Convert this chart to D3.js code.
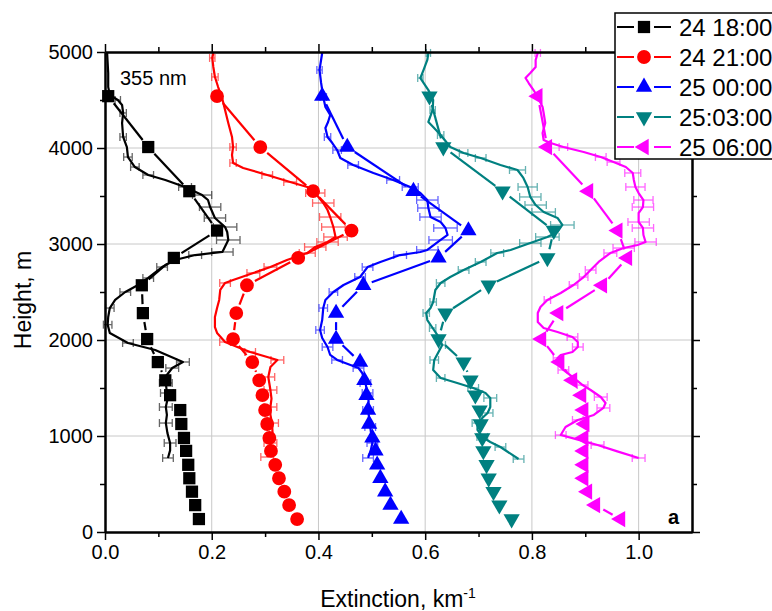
<!DOCTYPE html>
<html>
<head>
<meta charset="utf-8">
<script src="https://cdn.jsdelivr.net/npm/d3@7"></script>
<style>
  body { margin: 0; background: #fff; }
  text { font-family: Arial, "Liberation Sans", sans-serif; }
</style>
</head>
<body>
<svg id="chart" width="772" height="611"></svg>
<script>
// heights (m) of the symbol profiles, shared by all five times
var heights = [135, 280, 420, 560, 700, 845, 980, 1125, 1270, 1425, 1580, 1770, 2010, 2280, 2570, 2855, 3140, 3550, 4010, 4540];

// extinction (km-1) at those heights
var ext2418 = [0.176, 0.169, 0.163, 0.158, 0.156, 0.152, 0.148, 0.143, 0.141, 0.122, 0.113, 0.099, 0.079, 0.071, 0.069, 0.129, 0.210, 0.158, 0.081, 0.006];
var ext2421 = [0.360, 0.345, 0.336, 0.326, 0.319, 0.311, 0.308, 0.304, 0.300, 0.295, 0.289, 0.276, 0.240, 0.246, 0.266, 0.362, 0.462, 0.390, 0.291, 0.210];
var ext2500 = [0.555, 0.535, 0.525, 0.516, 0.510, 0.507, 0.501, 0.495, 0.493, 0.490, 0.486, 0.478, 0.433, 0.433, 0.484, 0.625, 0.681, 0.578, 0.454, 0.407];
var ext2503 = [0.762, 0.739, 0.728, 0.719, 0.715, 0.709, 0.707, 0.704, 0.702, 0.694, 0.685, 0.672, 0.625, 0.638, 0.719, 0.829, 0.841, 0.745, 0.634, 0.608];
var ext2506 = [0.966, 0.919, 0.904, 0.897, 0.897, 0.897, 0.897, 0.899, 0.897, 0.893, 0.876, 0.852, 0.818, 0.850, 0.932, 0.979, 0.961, 0.906, 0.829, 0.811];

// lidar profiles: [height, extinction, error half width (0 = no bar)]
var prof2418 = [[771,0.118,0.010],[850,0.122,0],[927,0.122,0.011],[1030,0.117,0],[1135,0.114,0.012],[1220,0.116,0],[1302,0.114,0.012],[1380,0.117,0],[1448,0.116,0.012],[1552,0.114,0.012],[1615,0.113,0],[1708,0.126,0.012],[1771,0.146,0.012],[1896,0.094,0],[1969,0.043,0.010],[2073,0.009,0],[2160,0.005,0.008],[2240,0.006,0],[2333,0.009,0.008],[2417,0.019,0],[2500,0.038,0.010],[2573,0.062,0],[2646,0.081,0.010],[2760,0.107,0.010],[2833,0.131,0],[2885,0.169,0.012],[2917,0.220,0.020],[3042,0.231,0.022],[3125,0.229,0],[3177,0.225,0.022],[3271,0.206,0.020],[3385,0.197,0.020],[3458,0.193,0],[3510,0.182,0.018],[3594,0.150,0.012],[3667,0.113,0],[3719,0.081,0.010],[3802,0.056,0.008],[3906,0.043,0.008],[4010,0.041,0],[4115,0.034,0.006],[4260,0.032,0],[4365,0.034,0.006],[4448,0.032,0],[4500,0.024,0.005],[4552,0.009,0],[4635,0.006,0],[4781,0.006,0],[4990,0.004,0]];
var prof2421 = [[781,0.304,0.012],[860,0.309,0],[927,0.310,0.012],[1030,0.314,0],[1135,0.313,0.012],[1220,0.310,0],[1302,0.310,0.012],[1390,0.312,0],[1479,0.310,0.012],[1615,0.306,0.012],[1719,0.310,0],[1792,0.323,0.012],[1823,0.304,0],[1875,0.272,0.010],[1927,0.248,0],[1979,0.225,0.010],[2073,0.210,0],[2135,0.206,0],[2240,0.206,0],[2333,0.210,0],[2417,0.214,0],[2521,0.216,0],[2594,0.225,0.010],[2625,0.240,0],[2698,0.278,0.012],[2760,0.310,0.012],[2833,0.341,0],[2906,0.379,0.015],[2969,0.394,0.020],[3021,0.417,0.020],[3073,0.432,0.022],[3177,0.428,0.022],[3281,0.422,0.020],[3354,0.417,0],[3427,0.409,0.020],[3531,0.394,0.018],[3594,0.379,0],[3646,0.347,0.012],[3719,0.304,0.010],[3792,0.259,0],[3844,0.240,0.006],[3927,0.238,0],[4010,0.240,0.006],[4115,0.238,0],[4260,0.231,0],[4396,0.225,0],[4531,0.219,0],[4635,0.212,0],[4740,0.206,0.006],[4844,0.203,0],[4938,0.201,0.005],[4990,0.203,0]];
var prof2500 = [[771,0.493,0.010],[850,0.498,0],[927,0.501,0.010],[1094,0.497,0.010],[1271,0.493,0.010],[1360,0.494,0],[1448,0.492,0.010],[1552,0.488,0.010],[1656,0.482,0],[1708,0.475,0.010],[1740,0.460,0],[1792,0.435,0.010],[1844,0.422,0],[1927,0.417,0.010],[2021,0.407,0],[2104,0.403,0.008],[2208,0.407,0],[2333,0.409,0.008],[2417,0.413,0],[2500,0.428,0.008],[2573,0.447,0],[2656,0.478,0.010],[2760,0.492,0.010],[2813,0.516,0],[2885,0.553,0.012],[2917,0.591,0],[2938,0.604,0.020],[3042,0.629,0.022],[3094,0.642,0],[3167,0.638,0.022],[3229,0.629,0],[3281,0.610,0.020],[3375,0.606,0.020],[3458,0.604,0.020],[3531,0.591,0],[3594,0.572,0.015],[3667,0.540,0.012],[3740,0.503,0],[3823,0.465,0.010],[3896,0.441,0],[3979,0.435,0.008],[4052,0.426,0],[4115,0.417,0.006],[4208,0.413,0],[4271,0.418,0],[4344,0.422,0],[4427,0.413,0],[4531,0.409,0.006],[4677,0.405,0],[4813,0.402,0.005],[4990,0.407,0]];
var prof2503 = [[760,0.775,0.010],[885,0.741,0.010],[938,0.722,0],[990,0.707,0.010],[1063,0.698,0],[1135,0.698,0.010],[1188,0.707,0],[1240,0.717,0.010],[1302,0.722,0],[1396,0.722,0.012],[1448,0.713,0],[1500,0.690,0.010],[1552,0.660,0],[1604,0.629,0.008],[1688,0.615,0],[1792,0.617,0.008],[1875,0.625,0],[1948,0.632,0.006],[2052,0.623,0],[2125,0.614,0.006],[2208,0.604,0],[2281,0.602,0.006],[2333,0.610,0],[2396,0.615,0.006],[2521,0.619,0],[2594,0.629,0.008],[2656,0.647,0],[2729,0.672,0.010],[2813,0.704,0.010],[2906,0.735,0.012],[2938,0.760,0],[3010,0.797,0.020],[3073,0.829,0.022],[3125,0.848,0],[3198,0.857,0.022],[3271,0.848,0],[3333,0.822,0.022],[3406,0.807,0.020],[3490,0.797,0.020],[3594,0.792,0.018],[3688,0.784,0],[3771,0.773,0.015],[3823,0.741,0],[3896,0.704,0.010],[3948,0.672,0.008],[4010,0.647,0],[4135,0.629,0.006],[4219,0.615,0],[4271,0.606,0],[4396,0.614,0.005],[4500,0.615,0],[4604,0.606,0],[4729,0.591,0.005],[4813,0.597,0],[4917,0.604,0],[4990,0.606,0.004]];
var prof2506 = [[771,1.000,0.012],[840,0.960,0],[906,0.923,0.012],[960,0.888,0],[1010,0.854,0.010],[1094,0.863,0],[1167,0.886,0.010],[1219,0.916,0],[1292,0.934,0.012],[1344,0.938,0],[1406,0.929,0.012],[1479,0.910,0],[1531,0.895,0.010],[1615,0.876,0],[1688,0.859,0.010],[1740,0.850,0],[1813,0.848,0.008],[1844,0.854,0],[1875,0.876,0],[1927,0.886,0.010],[1979,0.886,0],[2031,0.876,0.010],[2083,0.848,0],[2125,0.822,0],[2188,0.811,0],[2281,0.811,0],[2344,0.816,0],[2417,0.829,0.006],[2490,0.854,0],[2573,0.878,0.008],[2656,0.897,0.008],[2729,0.910,0.010],[2813,0.925,0],[2906,0.947,0.012],[2958,0.972,0.020],[2990,0.998,0],[3021,1.013,0.020],[3094,1.009,0],[3167,1.008,0.020],[3229,1.000,0.020],[3323,1.000,0],[3385,1.008,0.020],[3458,1.009,0.018],[3531,1.000,0],[3594,0.994,0.018],[3667,0.991,0],[3740,0.989,0.015],[3802,0.976,0],[3854,0.953,0.012],[3906,0.929,0.010],[3958,0.897,0],[4010,0.859,0.008],[4052,0.835,0],[4083,0.822,0],[4156,0.820,0],[4260,0.825,0],[4365,0.822,0],[4427,0.820,0],[4521,0.812,0],[4604,0.803,0],[4677,0.794,0],[4729,0.788,0],[4781,0.797,0],[4844,0.807,0],[4917,0.807,0],[4990,0.811,0.005]];

var labels = ["24 18:00", "24 21:00", "25 00:00", "25:03:00", "25 06:00"];
var colors = ["#000000", "#ff0000", "#0000ff", "#008080", "#ff00ff"];

var xMajor = [0, 0.2, 0.4, 0.6, 0.8, 1.0];
var xMinor = [0.1, 0.3, 0.5, 0.7, 0.9];
var yMajor = [0, 1000, 2000, 3000, 4000, 5000];
var yMinor = [500, 1500, 2500, 3500, 4500];

var series = [
    { label: labels[0], color: colors[0], ext: ext2418, prof: prof2418, sym: d3.symbolSquare, rot: 0, size: 150 },
    { label: labels[1], color: colors[1], ext: ext2421, prof: prof2421, sym: d3.symbolCircle, rot: 0, size: 150 },
    { label: labels[2], color: colors[2], ext: ext2500, prof: prof2500, sym: d3.symbolTriangle, rot: 0, size: 115 },
    { label: labels[3], color: colors[3], ext: ext2503, prof: prof2503, sym: d3.symbolTriangle, rot: 180, size: 115 },
    { label: labels[4], color: colors[4], ext: ext2506, prof: prof2506, sym: d3.symbolTriangle, rot: -90, size: 115 }
];

var svg = d3.select("#chart");
var x = d3.scaleLinear().domain([0, 1.1]).range([105, 692]);
var y = d3.scaleLinear().domain([0, 5000]).range([532, 52]);

// grid
svg.append("g").selectAll("line").data(xMajor.slice(1))
    .enter().append("line")
    .attr("x1", function(d) { return x(d); }).attr("x2", function(d) { return x(d); })
    .attr("y1", y(0)).attr("y2", y(5000))
    .attr("stroke", "#c8c8c8").attr("stroke-width", 1);
svg.append("g").selectAll("line").data(yMajor.slice(1, -1))
    .enter().append("line")
    .attr("x1", x(0)).attr("x2", x(1.1))
    .attr("y1", function(d) { return y(d); }).attr("y2", function(d) { return y(d); })
    .attr("stroke", "#c8c8c8").attr("stroke-width", 1);

var profLine = d3.line()
    .x(function(d) { return x(d[1]); })
    .y(function(d) { return y(d[0]); });

series.forEach(function(s) {
    var g = svg.append("g");

    // error bars
    var bars = s.prof.filter(function(d) { return d[2] > 0; });
    var eb = g.append("g").attr("stroke", s.color).attr("stroke-width", 1.3).attr("opacity", 0.6);
    bars.forEach(function(d) {
        var yy = y(d[0]), x1 = x(d[1] - d[2]), x2 = x(d[1] + d[2]);
        eb.append("line").attr("x1", x1).attr("x2", x2).attr("y1", yy).attr("y2", yy);
        eb.append("line").attr("x1", x1).attr("x2", x1).attr("y1", yy - 4).attr("y2", yy + 4);
        eb.append("line").attr("x1", x2).attr("x2", x2).attr("y1", yy - 4).attr("y2", yy + 4);
    });

    // lidar profile
    g.append("path").datum(s.prof)
        .attr("d", profLine)
        .attr("fill", "none")
        .attr("stroke", s.color)
        .attr("stroke-width", 2.2)
        .attr("stroke-linejoin", "round");

    // symbol line, broken round each symbol
    var pts = heights.map(function(h, i) { return [x(s.ext[i]), y(h)]; });
    var gap = 9;
    for (var i = 1; i < pts.length; i++) {
        var dx = pts[i][0] - pts[i-1][0], dy = pts[i][1] - pts[i-1][1];
        var len = Math.sqrt(dx*dx + dy*dy);
        if (len <= 2*gap + 1) continue;
        var ux = dx / len, uy = dy / len;
        g.append("line")
            .attr("x1", pts[i-1][0] + ux*gap).attr("y1", pts[i-1][1] + uy*gap)
            .attr("x2", pts[i][0] - ux*gap).attr("y2", pts[i][1] - uy*gap)
            .attr("stroke", s.color).attr("stroke-width", 2.2);
    }

    g.selectAll("path.sym").data(pts)
        .enter().append("path")
        .attr("class", "sym")
        .attr("d", d3.symbol().type(s.sym).size(s.size))
        .attr("transform", function(d) { return "translate(" + d[0] + "," + d[1] + ") rotate(" + s.rot + ")"; })
        .attr("fill", s.color);
});

// axes
function styleAxis(g) {
    g.select(".domain").attr("stroke-width", 2);
    g.selectAll(".tick line").attr("stroke-width", 1.5);
    g.selectAll("text").attr("font-size", 20).attr("fill", "#000");
}
svg.append("g").attr("transform", "translate(0," + y(0) + ")")
    .call(d3.axisBottom(x).tickValues(xMajor).tickFormat(d3.format(".1f")).tickSize(8).tickSizeOuter(0).tickPadding(5))
    .call(styleAxis);
svg.append("g").attr("transform", "translate(0," + y(0) + ")")
    .call(d3.axisBottom(x).tickValues(xMinor).tickFormat("").tickSize(5).tickSizeOuter(0))
    .call(styleAxis);
svg.append("g").attr("transform", "translate(" + x(0) + ",0)")
    .call(d3.axisLeft(y).tickValues(yMajor).tickFormat(d3.format("d")).tickSize(8).tickSizeOuter(0).tickPadding(4))
    .call(styleAxis);
svg.append("g").attr("transform", "translate(" + x(0) + ",0)")
    .call(d3.axisLeft(y).tickValues(yMinor).tickFormat("").tickSize(5).tickSizeOuter(0))
    .call(styleAxis);
svg.append("g").attr("transform", "translate(0," + y(5000) + ")")
    .call(d3.axisTop(x).tickValues(xMajor).tickFormat("").tickSize(8).tickSizeOuter(0))
    .call(styleAxis);
svg.append("g").attr("transform", "translate(0," + y(5000) + ")")
    .call(d3.axisTop(x).tickValues(xMinor).tickFormat("").tickSize(5).tickSizeOuter(0))
    .call(styleAxis);
svg.append("g").attr("transform", "translate(" + x(1.1) + ",0)")
    .call(d3.axisRight(y).tickValues(yMajor).tickFormat("").tickSize(8).tickSizeOuter(0))
    .call(styleAxis);
svg.append("g").attr("transform", "translate(" + x(1.1) + ",0)")
    .call(d3.axisRight(y).tickValues(yMinor).tickFormat("").tickSize(5).tickSizeOuter(0))
    .call(styleAxis);

// titles
svg.append("text")
    .attr("transform", "translate(31,300) rotate(-90)")
    .attr("text-anchor", "middle")
    .attr("font-size", 23)
    .text("Height, m");
var xt = svg.append("text")
    .attr("x", 398).attr("y", 607)
    .attr("text-anchor", "middle")
    .attr("font-size", 23);
xt.append("tspan").text("Extinction, km");
xt.append("tspan").attr("dy", -9).attr("font-size", 14).text("-1");

svg.append("text").attr("x", 120).attr("y", 85).attr("font-size", 20).text("355 nm");
svg.append("text").attr("x", 668).attr("y", 524).attr("font-size", 20).attr("font-weight", "bold").text("a");

// legend
var lg = svg.append("g");
lg.append("rect")
    .attr("x", 615).attr("y", 13).attr("width", 170).attr("height", 146)
    .attr("fill", "#fff").attr("stroke", "#000").attr("stroke-width", 1.5);
series.forEach(function(s, i) {
    var cy = 27 + i * 30;
    lg.append("line").attr("x1", 617).attr("x2", 634).attr("y1", cy).attr("y2", cy)
        .attr("stroke", s.color).attr("stroke-width", 2);
    lg.append("line").attr("x1", 654).attr("x2", 671).attr("y1", cy).attr("y2", cy)
        .attr("stroke", s.color).attr("stroke-width", 2);
    lg.append("path")
        .attr("d", d3.symbol().type(s.sym).size(s.size))
        .attr("transform", "translate(644," + cy + ") rotate(" + s.rot + ")")
        .attr("fill", s.color);
    lg.append("text").attr("x", 679).attr("y", cy + 8.5)
        .attr("font-size", 24).text(s.label);
});
</script>
</body>
</html>
